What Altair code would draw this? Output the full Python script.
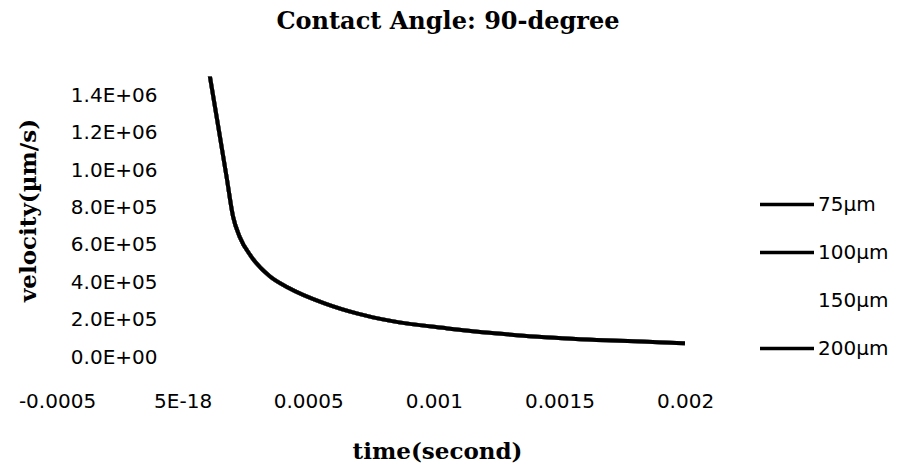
import altair as alt
import pandas as pd

series_names = ["75µm", "100µm", "150µm", "200µm"]
series_colors = ["#000000", "#000000", "#ffffff", "#000000"]

time_s = [0.000105, 0.000142, 0.000175, 0.000201, 0.000227, 0.000274, 0.000347,
          0.000419, 0.000565, 0.000697, 0.000829, 0.001054, 0.001319, 0.001583,
          0.001848, 0.002]
velocity = [1530000, 1232000, 964000, 750000, 643000, 536000, 432000,
            372000, 287000, 232000, 193000, 153000, 118000, 95000,
            82000, 73000]

x_ticks = [-0.0005, 0, 0.0005, 0.001, 0.0015, 0.002]
x_tick_labels = ["-0.0005", "5E-18", "0.0005", "0.001", "0.0015", "0.002"]
y_ticks = [0, 200000, 400000, 600000, 800000, 1000000, 1200000, 1400000]
y_tick_labels = ["0.0E+00", "2.0E+05", "4.0E+05", "6.0E+05", "8.0E+05",
                 "1.0E+06", "1.2E+06", "1.4E+06"]

rows = []
for s in series_names:
    for t, v in zip(time_s, velocity):
        rows.append({"series": s, "time": t, "velocity": v})
df = pd.DataFrame(rows)

x_label_expr = "[" + ",".join(f"'{l}'" for l in x_tick_labels) + "][round((datum.value + 0.0005) / 0.0005)]"
y_label_expr = "[" + ",".join(f"'{l}'" for l in y_tick_labels) + "][round(datum.value / 200000)]"

chart = alt.Chart(df).mark_line(strokeWidth=4, interpolate="monotone", clip=True).encode(
    x=alt.X("time:Q",
            scale=alt.Scale(domain=[-0.0005, 0.002], nice=False, zero=False),
            axis=alt.Axis(values=x_ticks, labelExpr=x_label_expr, title="time(second)",
                          domain=False, ticks=False, grid=False, labelPadding=44,
                          labelFlush=False, labelOverlap=False,
                          labelFont="DejaVu Sans", labelFontSize=20, labelColor="black",
                          labelBaseline="middle",
                          titleFont="DejaVu Serif", titleFontSize=23, titleFontWeight="bold",
                          titleColor="black", titleX=380, titleY=101,
                          titleBaseline="alphabetic", titleAlign="center")),
    y=alt.Y("velocity:Q",
            scale=alt.Scale(domain=[0, 1500000], nice=False),
            axis=alt.Axis(values=y_ticks, labelExpr=y_label_expr, title="velocity(µm/s)",
                          offset=-124, domain=False, ticks=False, grid=False, labelPadding=24,
                          labelFlush=False, labelOverlap=False,
                          labelFont="DejaVu Sans", labelFontSize=20, labelColor="black",
                          titleFont="DejaVu Serif", titleFontSize=23, titleFontWeight="bold",
                          titleColor="black", titleAngle=270, titleX=-153, titleY=133.5,
                          titleBaseline="middle", titleAlign="center")),
    color=alt.Color("series:N",
                    scale=alt.Scale(domain=series_names, range=series_colors),
                    legend=alt.Legend(title=None, orient="none", legendX=718, legendY=116,
                                      symbolType="M-2.7,0H2.7", symbolSize=400,
                                      symbolStrokeWidth=3.5, labelFont="DejaVu Sans",
                                      labelFontSize=20, labelColor="black", labelOffset=19,
                                      rowPadding=26, padding=0)),
).properties(
    width=628,
    height=280.5,
    title=alt.TitleParams("Contact Angle: 90-degree", font="DejaVu Serif", fontSize=24,
                          fontWeight="bold", color="black", anchor="middle", frame="group",
                          dx=77, offset=43),
    padding={"left": 49, "top": 68.5, "right": 209, "bottom": 107},
    autosize="none",
).configure_view(stroke=None)

chart.save("out.html", embed_options={"renderer": "svg", "actions": False})
